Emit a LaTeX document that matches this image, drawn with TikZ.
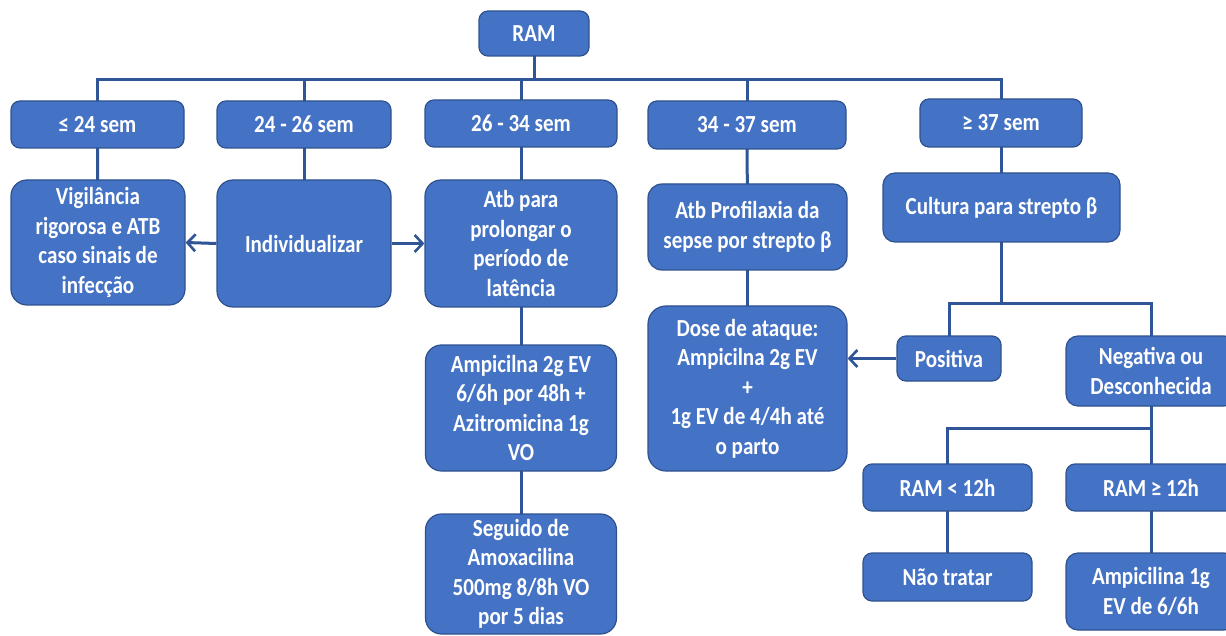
\documentclass[tikz,border=0pt]{standalone}
\usepackage{fontspec}
\setmainfont[FakeStretch=0.86]{Carlito}
\usetikzlibrary{arrows.meta,backgrounds}
\definecolor{boxfill}{HTML}{4472C4}
\definecolor{boxline}{HTML}{2F528F}
\definecolor{conn}{HTML}{2F5597}
\tikzset{
  box/.style={draw=boxline, line width=1.2pt, fill=boxfill, rounded corners=#1,
    text=white, align=center, inner sep=0pt,
    font=\fontsize{24.5}{29.5}\selectfont\bfseries},
  box/.default=9pt,
  conline/.style={draw=conn, line width=3pt},
  conarrow/.style={conline, -{Straight Barb[length=8pt,width=17pt,line width=2.6pt]}}
}
\newcommand{\bx}[7][9pt]{%
  \node[box=#1, minimum width=#5pt, minimum height=#6pt] (#2) at (#3,#4) {#7};}
\begin{document}
\begin{tikzpicture}[x=1pt,y=-1pt]
\useasboundingbox (0,0) rectangle (1226,636);
\clip (0,0) rectangle (1226,636);
\coordinate (bus) at (0,80);
\coordinate (b2) at (0,304);
\coordinate (b3) at (0,428);
\bx{ram}{534}{33.5}{110}{45}{RAM}
\bx{s1}{97.5}{124.5}{173}{47}{≤ 24 sem}
\bx{s2}{304}{124.5}{174}{47}{24 - 26 sem}
\bx{s3}{521}{123.5}{192}{47}{26 - 34 sem}
\bx{s4}{747}{125}{198}{48}{34 - 37 sem}
\bx{s5}{1001}{123}{162}{48}{≥ 37 sem}
\bx[16pt]{vig}{98}{242.5}{174}{125}{Vigilância\\rigorosa e ATB\\caso sinais de\\infecção}
\bx[16pt]{ind}{304}{243.5}{174}{127}{Individualizar}
\bx[16pt]{atb}{521}{243.5}{192}{127}{Atb para\\prolongar o\\período de\\latência}
\bx[14pt]{prof}{747.5}{227}{199}{86}{Atb Profilaxia da\\sepse por strepto β}
\bx[12pt]{cult}{1001.5}{207.5}{237}{69}{Cultura para strepto β}
\bx[16pt]{amp}{521}{408}{191}{126}{Ampicilna 2g EV\\6/6h por 48h +\\Azitromicina 1g\\VO}
\bx[16pt]{seg}{521}{574}{191}{120}{Seguido de\\Amoxacilina\\500mg 8/8h VO\\por 5 dias}
\bx[18pt]{dose}{747.5}{388.5}{199}{165}{Dose de ataque:\\Ampicilna 2g EV\\+\\1g EV de 4/4h até\\o parto}
\bx{pos}{949}{358.5}{104}{45}{Positiva}
\bx[12pt]{neg}{1151}{371}{170}{70}{Negativa ou\\Desconhecida}
\bx{lt}{947.5}{487.5}{169}{47}{RAM < 12h}
\bx{ge}{1151}{487.5}{170}{47}{RAM ≥ 12h}
\bx{nao}{947.5}{577}{169}{48}{Não tratar}
\bx[12pt]{amp1}{1151}{591.5}{170}{77}{Ampicilina 1g\\EV de 6/6h}
\begin{scope}[on background layer]
\fill[white] (0,0) rectangle (1226,636);
% top bus
\draw[conline] (ram.center) -- (ram.center|-bus);
\draw[conline] (s1.center) -- (s1.center|-bus) -- (s5.center|-bus) -- (s5.center);
\draw[conline] (s2.center) -- (s2.center|-bus);
\draw[conline] (s3.center) -- (s3.center|-bus);
\draw[conline] (s4.center) -- (s4.center|-bus);
% second level
\draw[conline] (s1.center) -- (vig.center);
\draw[conline] (s2.center) -- (ind.center);
\draw[conline] (s3.center) -- (atb.center);
\draw[conline] (s4.center) -- (prof.center);
\draw[conline] (s5.center) -- (s5.center|-cult.center);
\draw[conline] (atb.center) -- (amp.center);
\draw[conline] (amp.center) -- (seg.center);
\draw[conline] (prof.center) -- (dose.center);
% culture bus
\draw[conline] (cult.center) -- (cult.center|-b2);
\draw[conline] (pos.center) -- (pos.center|-b2) -- (neg.center|-b2) -- (neg.center);
% negative bus
\draw[conline] (neg.center) -- (neg.center|-b3);
\draw[conline] (lt.center) -- (lt.center|-b3) -- (ge.center|-b3) -- (ge.center);
\draw[conline] (lt.center) -- (nao.center);
\draw[conline] (ge.center) -- (amp1.center);
\end{scope}
% arrows
\draw[conarrow] (ind.west) -- (vig.east);
\draw[conarrow] (ind.east) -- (atb.west);
\draw[conarrow] (pos.west) -- (pos.west-|dose.east);
\end{tikzpicture}
\end{document}
